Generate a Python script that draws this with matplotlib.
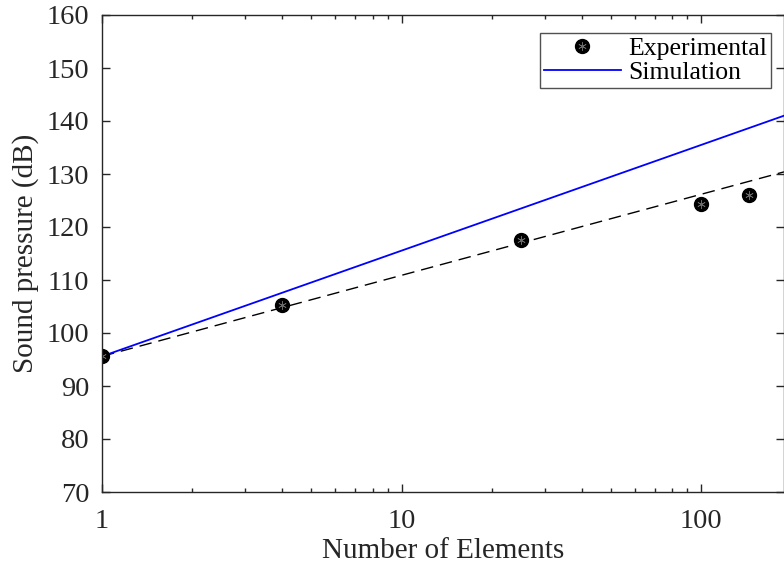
import matplotlib
matplotlib.use("Agg")
import matplotlib.pyplot as plt
from matplotlib.legend_handler import HandlerTuple
from matplotlib.ticker import LogLocator, FixedLocator, NullFormatter

# Measured sound pressure vs. number of array elements
elements = [1, 4, 25, 100, 144]
measured_db = [95.6, 105.3, 117.6, 124.3, 126.1]

# Trend through the measurements (dashed) and simulated response (solid)
trend_n = [1, 189]
trend_db = [95.6, 130.4]
sim_n = [1, 189]
sim_db = [95.6, 141.0]

x_ticks = [1, 10, 100]
x_tick_labels = ["1", "10", "100"]
y_ticks = [70, 80, 90, 100, 110, 120, 130, 140, 150, 160]

plt.rcParams["font.family"] = ["Liberation Serif", "DejaVu Serif"]

fig = plt.figure(figsize=(7.84, 5.65), dpi=100)
ax = fig.add_axes([102 / 784, 1 - 492 / 565, 682 / 784, 477 / 565])

ax.plot(trend_n, trend_db, color="black", lw=1.0, ls=(0, (9, 5)))
sim_line, = ax.plot(sim_n, sim_db, color="#0000ff", lw=1.3)
dots, = ax.plot(elements, measured_db, ls="none", marker="o", ms=10,
                mfc="black", mec="black")
stars, = ax.plot(elements, measured_db, ls="none", marker=(6, 2, 0), ms=6,
                 mfc="none", mec="#6a6a6a", mew=0.5)

ax.set_xscale("log")
ax.set_xlim(1, 189)
ax.set_ylim(70, 160)
ax.xaxis.set_major_locator(FixedLocator(x_ticks))
ax.set_xticklabels(x_tick_labels)
ax.xaxis.set_minor_locator(LogLocator(base=10, subs=range(2, 10)))
ax.xaxis.set_minor_formatter(NullFormatter())
ax.set_yticks(y_ticks)

ax.tick_params(which="both", direction="in", top=True, right=True,
               labelsize=20.5, colors="#262626", width=1.0)
ax.tick_params(which="major", length=6)
ax.tick_params(which="minor", length=3)
ax.tick_params(axis="x", pad=12)
ax.tick_params(axis="y", pad=9)
for s in ax.spines.values():
    s.set_color("#262626")
    s.set_linewidth(1.0)

ax.set_xlabel("Number of Elements", fontsize=21, color="#262626", labelpad=3)
ax.set_ylabel("Sound pressure (dB)", fontsize=21, color="#262626", labelpad=6)

leg = ax.legend([(dots, stars), sim_line], ["Experimental", "Simulation"],
                handler_map={tuple: HandlerTuple(ndivide=1, pad=0)},
                loc="upper right", bbox_to_anchor=(0.981, 0.962),
                fontsize=18.5, frameon=True, fancybox=False,
                edgecolor="#262626", handlelength=3.0, handletextpad=0.3,
                borderpad=0.15, labelspacing=0.05, borderaxespad=0)
leg.get_frame().set_linewidth(1.0)

fig.savefig("out.png", dpi=100)
